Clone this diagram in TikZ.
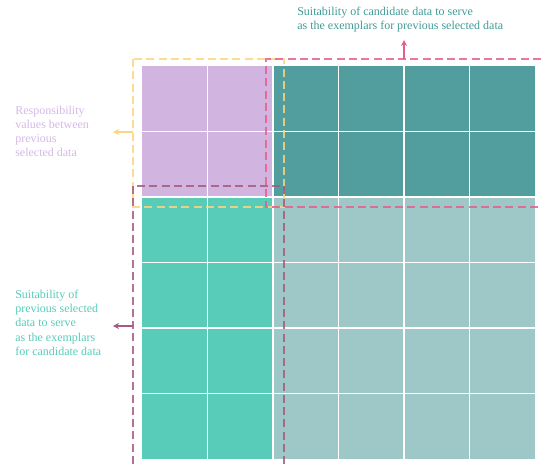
\documentclass[tikz,border=0pt]{standalone}
\usepackage{fontspec}
\setmainfont{Liberation Serif}
\usetikzlibrary{arrows.meta}
\usetikzlibrary{positioning}
\definecolor{mpurple}{HTML}{D1B4E0}
\definecolor{mdark}{HTML}{529E9F}
\definecolor{mmint}{HTML}{58CBB9}
\definecolor{mlight}{HTML}{9EC8C8}
\definecolor{myellow}{HTML}{FDD57E}
\definecolor{mpink}{HTML}{E55F8E}
\definecolor{mmauve}{HTML}{A65A7C}
\definecolor{tpurple}{HTML}{D4B8E6}
\definecolor{tteal}{HTML}{3F9B95}
\tikzset{boxline/.style = {line width=1.7pt, dash pattern=on 6pt off 3.2pt},
         pointer/.style = {line width=0.9pt, -{Stealth[length=4.5pt, width=4.5pt]}},
         note/.style = {inner sep=0pt, align=left, font=\fontsize{9}{10.6}\selectfont}}

\begin{document}
\begin{tikzpicture}[x=0.75pt, y=-0.75pt]
    \useasboundingbox (0, 0) rectangle (541, 464);

    % blocks of the matrix
    \fill [mpurple] (142, 66) rectangle (273, 197);
    \fill [mdark] (273, 66) rectangle (535, 197);
    \fill [mmint] (142, 197) rectangle (273, 459);
    \fill [mlight] (273, 197) rectangle (535, 459);
    \foreach \i in {1, ..., 5} {
        \draw [white, line width=1.1pt] ({142 + 65.5 * \i}, 66) -- ({142 + 65.5 * \i}, 459);
        \draw [white, line width=1.1pt] (142, {66 + 65.5 * \i}) -- (535, {66 + 65.5 * \i});
    }

    % dashed frames
    \draw [boxline, myellow, opacity=0.85] (133, 59) rectangle (284, 207);
    \draw [boxline, mpink, opacity=0.85] (541, 59) -- (266, 59) -- (266, 207) -- (541, 207);
    \draw [boxline, mmauve, opacity=0.85] (133, 464) -- (133, 186) -- (284, 186) -- (284, 464);

    % notes
    \node [note, tpurple, anchor=north west] (resp) at (15, 106)
        {Responsibility\\values between\\previous\\selected data};
    \node [note, mmint, anchor=north west] (suitprev) at (15, 290)
        {Suitability of\\previous selected\\data to serve\\as the exemplars\\for candidate data};
    \node [note, tteal, anchor=north west] (suitcand) at (297, 7)
        {Suitability of candidate data to serve\\as the exemplars for previous selected data};

    \coordinate (yfrom) at (133, 132);
    \coordinate (yto) at (113, 132);
    \coordinate (pfrom) at (404, 59);
    \coordinate (pto) at (404, 40);
    \coordinate (mfrom) at (133, 326);
    \coordinate (mto) at (113, 326);
    \draw [pointer, myellow] (yfrom) -- (yto);
    \draw [pointer, mpink] (pfrom) -- (pto);
    \draw [pointer, mmauve] (mfrom) -- (mto);
\end{tikzpicture}
\end{document}
